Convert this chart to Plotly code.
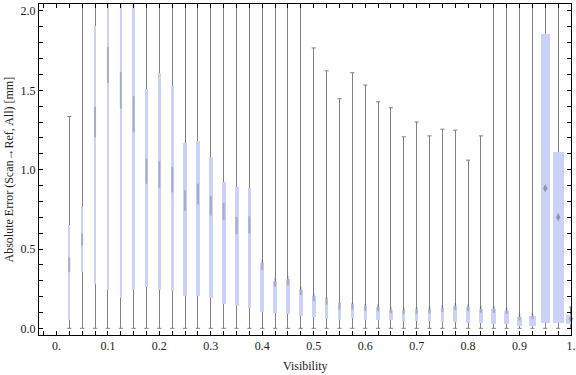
import plotly.graph_objects as go

# ---- data ----
visibility = [0.025, 0.05, 0.075, 0.1, 0.125, 0.15, 0.175, 0.2, 0.225, 0.25,
              0.275, 0.3, 0.325, 0.35, 0.375, 0.4, 0.425, 0.45, 0.475, 0.5,
              0.525, 0.55, 0.575, 0.6, 0.625, 0.65, 0.675, 0.7, 0.725, 0.75,
              0.775, 0.8, 0.825, 0.85, 0.875, 0.9, 0.925, 0.95, 0.975, 1.0]
whisker_low = [0.0] * 40
q1 = [0.053, 0.357, 0.28, 0.24, 0.193, 0.24, 0.26, 0.24, 0.235, 0.204,
      0.204, 0.19, 0.153, 0.142, 0.13, 0.105, 0.098, 0.09, 0.08, 0.073,
      0.059, 0.05, 0.065, 0.054, 0.054, 0.054, 0.048, 0.046, 0.046, 0.042,
      0.042, 0.036, 0.036, 0.029, 0.029, 0.017, 0.017, 0.036, 0.036, 0.027]
median = [0.40, 0.56, 1.30, 1.66, 1.50, 1.35, 0.99, 0.97, 0.936, 0.805,
          0.847, 0.772, 0.736, 0.648, 0.652, 0.40, 0.29, 0.30, 0.235, 0.195,
          0.174, 0.141, 0.141, 0.132, 0.13, 0.115, 0.11, 0.113, 0.115, 0.125,
          0.138, 0.13, 0.12, 0.12, 0.112, 0.07, 0.078, 0.883, 0.70, 0.06]
q3 = [0.65, 0.767, 1.907, 2.2, 2.2, 2.2, 1.508, 1.609, 1.529, 1.167,
      1.18, 1.08, 0.923, 0.89, 0.883, 0.41, 0.30, 0.311, 0.24, 0.204,
      0.185, 0.16, 0.151, 0.139, 0.134, 0.117, 0.115, 0.12, 0.122, 0.128,
      0.141, 0.134, 0.124, 0.124, 0.112, 0.073, 0.078, 1.855, 1.112, 0.084]
whisker_high = [1.335, 2.3, 2.3, 2.4, 2.4, 2.4, 2.3, 2.3, 2.3, 2.3,
                2.3, 2.3, 2.3, 2.3, 2.3, 2.3, 2.3, 2.3, 2.3, 1.767,
                1.623, 1.447, 1.611, 1.533, 1.428, 1.39, 1.207, 1.30, 1.213, 1.255,
                1.249, 1.06, 1.213, 2.3, 2.057, 2.3, 2.3, 2.3, 2.3, 0.134]
# relative box weight (box width in the chart)
box_weight = [1, 1, 2, 2.5, 2.5, 2.5, 3, 3, 3, 4,
              4, 3.7, 4, 4, 3.5, 4, 4, 4, 3.7, 3.7,
              3.7, 3, 3, 3, 3.3, 3.3, 3.3, 3, 3, 3.3,
              4, 4, 4, 5, 5.3, 5.3, 7, 9, 11, 10]

x_ticks = [0.0, 0.1, 0.2, 0.3, 0.4, 0.5, 0.6, 0.7, 0.8, 0.9, 1.0]
x_ticktext = ["0.", "0.1", "0.2", "0.3", "0.4", "0.5", "0.6", "0.7", "0.8", "0.9", "1."]
x_title = "Visibility"
y_title = "Absolute Error (Scan→Ref, All) [mm]"

# ---- styling ----
X_RANGE = [-0.0339, 1.0]
Y_RANGE = [-0.042, 2.044]
ML, MR, MT, MB = 39, 5, 4, 40
PLOT_W = 576 - ML - MR
PLOT_H = 375 - MT - MB
PX_PER_X = PLOT_W / (X_RANGE[1] - X_RANGE[0])
BOX_COLOR = "#CBD2F8"
WHISKER_COLOR = "#808080"
MEDIAN_COLOR = "rgba(90,90,110,0.45)"
FONT = dict(family="Liberation Serif, Times New Roman, serif", size=12, color="#222222")

box_w = [b / PX_PER_X for b in box_weight]
# very thin bars: plotly expands them to the single pixel column they fall in
whisker_w = 0.02 / PX_PER_X
iqr = [b - a for a, b in zip(q1, q3)]

fig = go.Figure()

# whiskers (thin bars, drawn below the boxes)
fig.add_trace(go.Bar(
    x=visibility,
    base=whisker_low,
    y=[h - l for h, l in zip(whisker_high, whisker_low)],
    width=[whisker_w] * len(visibility),
    marker=dict(color=WHISKER_COLOR, line=dict(width=0)),
    cliponaxis=False, hoverinfo="skip", showlegend=False,
))
# whisker caps
fig.add_trace(go.Scatter(
    x=visibility + visibility,
    y=whisker_low + whisker_high,
    mode="markers",
    marker=dict(symbol="line-ew", size=3, line=dict(width=1, color=WHISKER_COLOR)),
    cliponaxis=True, hoverinfo="skip", showlegend=False,
))
# boxes
fig.add_trace(go.Bar(
    x=visibility,
    base=q1,
    y=iqr,
    width=box_w,
    marker=dict(color=BOX_COLOR, line=dict(width=0)),
    cliponaxis=False, hoverinfo="skip", showlegend=False,
))
# medians: thin vertical smudge in narrow boxes, diamond in wide boxes
wide = [b >= 8 for b in box_weight]
fig.add_trace(go.Scatter(
    x=visibility,
    y=median,
    mode="markers",
    marker=dict(
        symbol=["diamond-tall" if w else "line-ns" for w in wide],
        size=[6 if w else 4 + min(v, 2.0) * 11 for w, v in zip(wide, iqr)],
        color=["rgba(90,90,110,0.75)" if w else MEDIAN_COLOR for w in wide],
        line=dict(width=[0 if w else 2 for w in wide], color=MEDIAN_COLOR),
    ),
    cliponaxis=False, hoverinfo="skip", showlegend=False,
))

fig.update_layout(
    width=576, height=375,
    margin=dict(l=ML, r=MR, t=MT, b=MB),
    paper_bgcolor="white", plot_bgcolor="white",
    barmode="overlay", bargap=0,
    font=FONT,
    showlegend=False,
    annotations=[
        dict(text=x_title, xref="paper", yref="paper", x=(305 - ML) / PLOT_W,
             y=-31 / PLOT_H, xanchor="center", yanchor="middle",
             showarrow=False, font=FONT),
        dict(text=y_title, xref="paper", yref="paper", x=-31 / PLOT_W,
             y=0.5, xanchor="center", yanchor="middle", textangle=-90,
             showarrow=False, font=FONT),
    ],
)
fig.update_xaxes(
    range=X_RANGE, showgrid=False, zeroline=False, automargin=False,
    showline=True, linecolor="black", linewidth=1, mirror="ticks",
    tickmode="array", tickvals=x_ticks, ticktext=x_ticktext,
    ticks="inside", ticklen=4, tickcolor="black", tickwidth=1,
    minor=dict(tickmode="linear", tick0=0, dtick=0.025, ticks="inside",
               ticklen=4, tickcolor="black", tickwidth=1),
    tickfont=FONT,
)
fig.update_yaxes(
    range=Y_RANGE, showgrid=False, zeroline=False, automargin=False,
    showline=True, linecolor="black", linewidth=1, mirror="ticks",
    tickmode="linear", tick0=0, dtick=0.5, tickformat=".1f",
    ticks="inside", ticklen=4, tickcolor="black", tickwidth=1,
    minor=dict(tickmode="linear", tick0=0, dtick=0.1, ticks="inside",
               ticklen=4, tickcolor="black", tickwidth=1),
    tickfont=FONT,
)

fig.write_html("out.html", config={"displayModeBar": False},
               post_script="document.body.style.margin='0';document.body.style.padding='0';")
